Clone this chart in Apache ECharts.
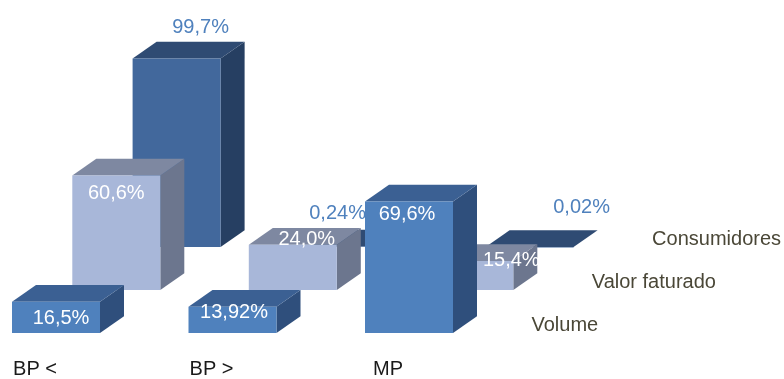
<!DOCTYPE html>
<html>
<head>
<meta charset="utf-8">
<script src="https://cdn.jsdelivr.net/npm/echarts@6/dist/echarts.min.js"></script>
<style>
  html, body { margin: 0; padding: 0; background: #ffffff; }
  #chart { width: 784px; height: 379px; }
</style>
</head>
<body>
<div id="chart"></div>
<script>
// Categories and the three depth rows (front to back)
const categories = ['BP <', 'BP >', 'MP'];
const rowNames = ['Volume', 'Valor faturado', 'Consumidores'];

// Percent values per row
const volume = [16.5, 13.92, 69.6];
const valorFaturado = [60.6, 24.0, 15.4];
const consumidores = [99.7, 0.24, 0.02];

// Pseudo-3D projection (pixels)
const HALF_W = 44;        // half width of the front face
const FACE_SHIFT = 21;    // front face centre relative to the category tick
const DEPTH_DX = 24, DEPTH_DY = -16.7;   // bar depth
const ROW_DX = 60.3, ROW_DY = -43;       // spacing between depth rows

// Per-row colours: front, top, side, label
const rowStyles = [
  { front: '#4f81bd', top: '#3b6093', side: '#2f4f7c', label: '#ffffff' },
  { front: '#a8b7d9', top: '#7e88a1', side: '#6c768e', label: '#ffffff' },
  { front: '#42689c', top: '#2f4b73', side: '#263f62', label: '#4f81bd' }
];

// Fine label placement relative to the top centre of each front face
const labelShift = [
  [[5, 17], [1.5, 6], [-2, 13]],
  [[0, 18.5], [14, -5], [42, 0]],
  [[24, -31], [-15.5, -33], [52, -39.5]]
];

const FONT = '"Liberation Sans", Arial, sans-serif';
const FONT_SIZE = 20;

function fmtPct(v) {
  const s = String(v);
  const dec = Math.max(1, s.indexOf('.') >= 0 ? s.length - s.indexOf('.') - 1 : 0);
  return v.toFixed(dec).replace('.', ',') + '%';
}

function makeRenderer(row) {
  const st = rowStyles[row];
  return function (params, api) {
    const i = api.value(0);
    const v = api.value(1);
    const base = api.coord([i, 0]);
    const topPt = api.coord([i, v]);
    const ox = row * ROW_DX, oy = row * ROW_DY;
    const cx = base[0] + FACE_SHIFT + ox;
    const x0 = cx - HALF_W, x1 = cx + HALF_W;
    const yb = base[1] + oy, yt = topPt[1] + oy;
    const children = [
      { type: 'polygon', shape: { points: [[x1, yt], [x1 + DEPTH_DX, yt + DEPTH_DY], [x1 + DEPTH_DX, yb + DEPTH_DY], [x1, yb]] },
        style: { fill: st.side } },
      { type: 'polygon', shape: { points: [[x0, yt], [x0 + DEPTH_DX, yt + DEPTH_DY], [x1 + DEPTH_DX, yt + DEPTH_DY], [x1, yt]] },
        style: { fill: st.top } },
      { type: 'rect', shape: { x: x0, y: yt, width: x1 - x0, height: Math.max(yb - yt, 0.5) },
        style: { fill: st.front } }
    ];
    const sh = labelShift[row][i];
    children.push({
      type: 'text',
      style: {
        x: cx + sh[0], y: yt + sh[1],
        text: fmtPct(v),
        fill: st.label,
        font: FONT_SIZE + 'px ' + FONT,
        align: 'center', verticalAlign: 'middle'
      }
    });
    if (i === categories.length - 1) {
      children.push({
        type: 'text',
        style: {
          x: x0 + 166.5, y: yb - 7.5,
          text: rowNames[row],
          fill: '#4a4737',
          font: FONT_SIZE + 'px ' + FONT,
          align: 'left', verticalAlign: 'middle'
        }
      });
    }
    return { type: 'group', children: children };
  };
}

const rowData = [volume, valorFaturado, consumidores];

// Back row first so nearer rows are painted over it
const series = [];
for (let r = rowData.length - 1; r >= 0; r--) {
  series.push({
    type: 'custom',
    name: rowNames[r],
    z: 10 + (rowData.length - r),
    renderItem: makeRenderer(r),
    encode: { x: 0, y: 1 },
    data: rowData[r].map((v, i) => [i, v]),
    clip: false,
    silent: true
  });
}

const chart = echarts.init(document.getElementById('chart'), null, { renderer: 'canvas' });
chart.setOption({
  backgroundColor: '#ffffff',
  animation: false,
  grid: { left: 35, top: 144, width: 353, height: 190 },
  xAxis: {
    type: 'category',
    data: categories,
    boundaryGap: false,
    axisLine: { show: false },
    axisTick: { show: false },
    splitLine: { show: false },
    axisLabel: { margin: 26, color: '#1a1a1a', fontSize: FONT_SIZE, fontFamily: FONT }
  },
  yAxis: {
    type: 'value', min: 0, max: 100, show: false
  },
  series: series
});
</script>
</body>
</html>
